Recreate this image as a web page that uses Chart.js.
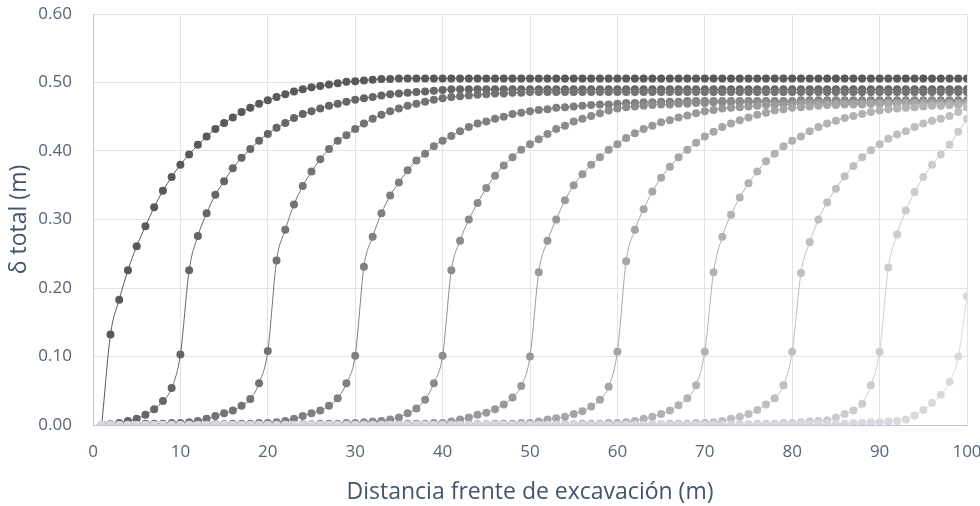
<html>
<head>
<meta charset="utf-8">
<title>Desplazamiento total vs distancia al frente</title>
<script src="https://cdn.jsdelivr.net/npm/chart.js@4.4.1/dist/chart.umd.min.js"></script>
<style>
body { margin: 0; background: #fff; }
#wrap { position: relative; width: 980px; height: 506px; }
</style>
</head>
<body>
<div id="wrap"><canvas id="deltaChart" width="980" height="506"></canvas></div>
<script>
// distancia al frente (m)
const distancias = [
  1, 2, 3, 4, 5, 6, 7, 8, 9, 10,
  11, 12, 13, 14, 15, 16, 17, 18, 19, 20,
  21, 22, 23, 24, 25, 26, 27, 28, 29, 30,
  31, 32, 33, 34, 35, 36, 37, 38, 39, 40,
  41, 42, 43, 44, 45, 46, 47, 48, 49, 50,
  51, 52, 53, 54, 55, 56, 57, 58, 59, 60,
  61, 62, 63, 64, 65, 66, 67, 68, 69, 70,
  71, 72, 73, 74, 75, 76, 77, 78, 79, 80,
  81, 82, 83, 84, 85, 86, 87, 88, 89, 90,
  91, 92, 93, 94, 95, 96, 97, 98, 99, 100
];

// delta total (m), one curve per excavation stage
const etapa1 = [
  0, 0.132, 0.183, 0.226, 0.261, 0.290, 0.318, 0.342, 0.362, 0.380,
  0.395, 0.409, 0.421, 0.432, 0.441, 0.449, 0.457, 0.463, 0.469, 0.474,
  0.479, 0.483, 0.487, 0.490, 0.493, 0.495, 0.497, 0.499, 0.501, 0.502,
  0.503, 0.504, 0.505, 0.505, 0.506, 0.506, 0.506, 0.506, 0.506, 0.506,
  0.506, 0.506, 0.506, 0.506, 0.506, 0.506, 0.506, 0.506, 0.506, 0.506,
  0.506, 0.506, 0.506, 0.506, 0.506, 0.506, 0.506, 0.506, 0.506, 0.506,
  0.506, 0.506, 0.506, 0.506, 0.506, 0.506, 0.506, 0.506, 0.506, 0.506,
  0.506, 0.506, 0.506, 0.506, 0.506, 0.506, 0.506, 0.506, 0.506, 0.506,
  0.506, 0.506, 0.506, 0.506, 0.506, 0.506, 0.506, 0.506, 0.506, 0.506,
  0.506, 0.506, 0.506, 0.506, 0.506, 0.506, 0.506, 0.506, 0.506, 0.506
];
const etapa2 = [
  0, 0.001, 0.003, 0.006, 0.009, 0.015, 0.023, 0.035, 0.054, 0.103,
  0.226, 0.276, 0.309, 0.336, 0.356, 0.375, 0.390, 0.403, 0.415, 0.425,
  0.434, 0.441, 0.448, 0.454, 0.458, 0.462, 0.466, 0.469, 0.472, 0.475,
  0.477, 0.479, 0.481, 0.483, 0.484, 0.485, 0.486, 0.487, 0.488, 0.489,
  0.490, 0.490, 0.490, 0.490, 0.490, 0.490, 0.490, 0.490, 0.490, 0.490,
  0.490, 0.490, 0.490, 0.490, 0.490, 0.490, 0.490, 0.490, 0.490, 0.490,
  0.490, 0.490, 0.490, 0.490, 0.490, 0.490, 0.490, 0.490, 0.490, 0.490,
  0.490, 0.490, 0.490, 0.490, 0.490, 0.490, 0.490, 0.490, 0.490, 0.490,
  0.490, 0.490, 0.490, 0.490, 0.490, 0.490, 0.490, 0.490, 0.490, 0.490,
  0.490, 0.490, 0.490, 0.490, 0.490, 0.490, 0.490, 0.490, 0.490, 0.490
];
const etapa3 = [
  0, 0, 0.001, 0.001, 0.001, 0.002, 0.002, 0.002, 0.003, 0.003,
  0.004, 0.006, 0.009, 0.013, 0.017, 0.021, 0.028, 0.038, 0.061, 0.108,
  0.240, 0.285, 0.322, 0.349, 0.370, 0.388, 0.403, 0.415, 0.423, 0.432,
  0.440, 0.447, 0.453, 0.458, 0.462, 0.466, 0.469, 0.472, 0.475, 0.477,
  0.479, 0.480, 0.481, 0.482, 0.483, 0.484, 0.484, 0.485, 0.485, 0.486,
  0.486, 0.486, 0.486, 0.486, 0.486, 0.486, 0.486, 0.486, 0.486, 0.486,
  0.486, 0.486, 0.486, 0.486, 0.486, 0.486, 0.486, 0.486, 0.486, 0.486,
  0.486, 0.486, 0.486, 0.486, 0.486, 0.486, 0.486, 0.486, 0.486, 0.486,
  0.486, 0.486, 0.486, 0.486, 0.486, 0.486, 0.486, 0.486, 0.486, 0.486,
  0.486, 0.486, 0.486, 0.486, 0.486, 0.486, 0.486, 0.486, 0.486, 0.486
];
const etapa4 = [
  0, 0, 0, 0, 0, 0, 0, 0, 0, 0,
  0.001, 0.001, 0.001, 0.001, 0.001, 0.002, 0.002, 0.002, 0.003, 0.003,
  0.004, 0.006, 0.009, 0.013, 0.017, 0.021, 0.028, 0.039, 0.061, 0.101,
  0.231, 0.275, 0.309, 0.335, 0.354, 0.372, 0.386, 0.396, 0.407, 0.415,
  0.422, 0.429, 0.435, 0.440, 0.443, 0.447, 0.450, 0.454, 0.456, 0.458,
  0.460, 0.461, 0.463, 0.464, 0.465, 0.466, 0.467, 0.468, 0.468, 0.469,
  0.470, 0.470, 0.471, 0.471, 0.472, 0.472, 0.472, 0.473, 0.473, 0.473,
  0.473, 0.473, 0.473, 0.473, 0.473, 0.473, 0.473, 0.473, 0.473, 0.473,
  0.474, 0.474, 0.474, 0.474, 0.474, 0.474, 0.474, 0.474, 0.474, 0.474,
  0.474, 0.474, 0.474, 0.474, 0.474, 0.474, 0.474, 0.474, 0.474, 0.474
];
const etapa5 = [
  0, 0, 0, 0, 0, 0, 0, 0, 0, 0,
  0, 0, 0, 0, 0, 0, 0, 0, 0, 0,
  0.001, 0.001, 0.001, 0.001, 0.001, 0.002, 0.002, 0.002, 0.003, 0.003,
  0.004, 0.005, 0.006, 0.008, 0.011, 0.017, 0.024, 0.037, 0.061, 0.101,
  0.226, 0.269, 0.300, 0.324, 0.346, 0.364, 0.379, 0.391, 0.402, 0.410,
  0.417, 0.425, 0.432, 0.437, 0.443, 0.447, 0.451, 0.455, 0.459, 0.462,
  0.464, 0.465, 0.466, 0.467, 0.468, 0.468, 0.469, 0.469, 0.470, 0.470,
  0.471, 0.471, 0.471, 0.471, 0.471, 0.471, 0.471, 0.471, 0.471, 0.471,
  0.471, 0.471, 0.471, 0.471, 0.471, 0.471, 0.471, 0.471, 0.471, 0.471,
  0.472, 0.472, 0.472, 0.472, 0.472, 0.472, 0.472, 0.472, 0.472, 0.472
];
const etapa6 = [
  0, 0, 0, 0, 0, 0, 0, 0, 0, 0,
  0, 0, 0, 0, 0, 0, 0, 0, 0, 0,
  0, 0, 0, 0, 0, 0, 0, 0, 0, 0,
  0.001, 0.001, 0.001, 0.001, 0.001, 0.002, 0.002, 0.002, 0.003, 0.003,
  0.005, 0.008, 0.011, 0.015, 0.018, 0.023, 0.030, 0.040, 0.057, 0.100,
  0.223, 0.269, 0.300, 0.328, 0.350, 0.366, 0.380, 0.391, 0.402, 0.410,
  0.419, 0.426, 0.432, 0.437, 0.442, 0.445, 0.449, 0.452, 0.455, 0.458,
  0.460, 0.462, 0.463, 0.464, 0.465, 0.466, 0.467, 0.467, 0.468, 0.468,
  0.469, 0.469, 0.469, 0.469, 0.469, 0.469, 0.469, 0.469, 0.469, 0.469,
  0.470, 0.470, 0.470, 0.470, 0.470, 0.470, 0.470, 0.470, 0.470, 0.470
];
const etapa7 = [
  0, 0, 0, 0, 0, 0, 0, 0, 0, 0,
  0, 0, 0, 0, 0, 0, 0, 0, 0, 0,
  0, 0, 0, 0, 0, 0, 0, 0, 0, 0,
  0, 0, 0, 0, 0, 0, 0, 0, 0, 0,
  0.001, 0.001, 0.001, 0.001, 0.001, 0.002, 0.002, 0.002, 0.003, 0.003,
  0.005, 0.008, 0.010, 0.012, 0.016, 0.020, 0.027, 0.037, 0.056, 0.107,
  0.239, 0.285, 0.315, 0.341, 0.361, 0.377, 0.391, 0.402, 0.412, 0.421,
  0.428, 0.435, 0.440, 0.445, 0.449, 0.453, 0.456, 0.459, 0.461, 0.463,
  0.464, 0.465, 0.466, 0.467, 0.467, 0.468, 0.468, 0.468, 0.469, 0.469,
  0.469, 0.469, 0.469, 0.469, 0.469, 0.469, 0.469, 0.469, 0.469, 0.469
];
const etapa8 = [
  0, 0, 0, 0, 0, 0, 0, 0, 0, 0,
  0, 0, 0, 0, 0, 0, 0, 0, 0, 0,
  0, 0, 0, 0, 0, 0, 0, 0, 0, 0,
  0, 0, 0, 0, 0, 0, 0, 0, 0, 0,
  0, 0, 0, 0, 0, 0, 0, 0, 0, 0,
  0.001, 0.001, 0.001, 0.001, 0.001, 0.002, 0.002, 0.002, 0.003, 0.003,
  0.004, 0.006, 0.009, 0.012, 0.016, 0.021, 0.029, 0.039, 0.058, 0.107,
  0.223, 0.275, 0.307, 0.332, 0.353, 0.370, 0.385, 0.396, 0.407, 0.415,
  0.421, 0.429, 0.435, 0.440, 0.444, 0.448, 0.451, 0.454, 0.457, 0.459,
  0.461, 0.462, 0.463, 0.464, 0.465, 0.466, 0.466, 0.467, 0.467, 0.468
];
const etapa9 = [
  0, 0, 0, 0, 0, 0, 0, 0, 0, 0,
  0, 0, 0, 0, 0, 0, 0, 0, 0, 0,
  0, 0, 0, 0, 0, 0, 0, 0, 0, 0,
  0, 0, 0, 0, 0, 0, 0, 0, 0, 0,
  0, 0, 0, 0, 0, 0, 0, 0, 0, 0,
  0, 0, 0, 0, 0, 0, 0, 0, 0, 0,
  0.001, 0.001, 0.001, 0.001, 0.001, 0.002, 0.002, 0.002, 0.003, 0.003,
  0.004, 0.006, 0.009, 0.012, 0.016, 0.022, 0.030, 0.039, 0.058, 0.107,
  0.222, 0.267, 0.300, 0.325, 0.345, 0.363, 0.378, 0.391, 0.401, 0.410,
  0.418, 0.424, 0.429, 0.435, 0.440, 0.444, 0.447, 0.451, 0.457, 0.464
];
const etapa10 = [
  0, 0, 0, 0, 0, 0, 0, 0, 0, 0,
  0, 0, 0, 0, 0, 0, 0, 0, 0, 0,
  0, 0, 0, 0, 0, 0, 0, 0, 0, 0,
  0, 0, 0, 0, 0, 0, 0, 0, 0, 0,
  0, 0, 0, 0, 0, 0, 0, 0, 0, 0,
  0, 0, 0, 0, 0, 0, 0, 0, 0, 0,
  0, 0, 0, 0, 0, 0, 0, 0, 0, 0,
  0.001, 0.001, 0.001, 0.001, 0.001, 0.002, 0.002, 0.002, 0.003, 0.003,
  0.004, 0.005, 0.006, 0.007, 0.011, 0.016, 0.021, 0.031, 0.058, 0.107,
  0.230, 0.278, 0.313, 0.340, 0.362, 0.380, 0.395, 0.409, 0.428, 0.447
];
const etapa11 = [
  0, 0, 0, 0, 0, 0, 0, 0, 0, 0,
  0, 0, 0, 0, 0, 0, 0, 0, 0, 0,
  0, 0, 0, 0, 0, 0, 0, 0, 0, 0,
  0, 0, 0, 0, 0, 0, 0, 0, 0, 0,
  0, 0, 0, 0, 0, 0, 0, 0, 0, 0,
  0, 0, 0, 0, 0, 0, 0, 0, 0, 0,
  0, 0, 0, 0, 0, 0, 0, 0, 0, 0,
  0, 0, 0, 0, 0, 0, 0, 0, 0, 0,
  0.001, 0.001, 0.001, 0.002, 0.002, 0.002, 0.003, 0.003, 0.004, 0.004,
  0.005, 0.006, 0.008, 0.014, 0.022, 0.032, 0.044, 0.063, 0.100, 0.188
];

const etapas = [etapa1, etapa2, etapa3, etapa4, etapa5, etapa6, etapa7, etapa8, etapa9, etapa10, etapa11];
const grises = ['#595959', '#666666', '#737373', '#7f7f7f', '#8c8c8c', '#999999',
                '#a6a6a6', '#b2b2b2', '#bfbfbf', '#cccccc', '#d9d9d9'];

const yTicks = [0, 0.1, 0.2, 0.3, 0.4, 0.5, 0.6];

const FONT = "'Open Sans', 'Noto Sans', sans-serif";
const TICK_COLOR = '#586374';
const TITLE_COLOR = '#44546a';
const GRID_COLOR = '#dfe4ec';
const AXIS_COLOR = '#b8c4d8';

var datasets = [];
for (let i = 0; i < etapas.length; i++) {
    datasets.push({
        label: 'Etapa ' + (i + 1),
        data: etapas[i],
        borderColor: grises[i],
        backgroundColor: grises[i],
        pointBackgroundColor: grises[i],
        pointBorderColor: grises[i],
        borderWidth: 1,
        pointRadius: 4,
        pointBorderWidth: 0,
        cubicInterpolationMode: 'monotone',
        fill: false,
        order: etapas.length - i   // last stage drawn on top
    });
}

const ctx = document.getElementById('deltaChart').getContext('2d');
const deltaChart = new Chart(ctx, {
    type: 'line',
    data: {
        labels: distancias,
        datasets: datasets
    },
    options: {
        responsive: false,
        animation: false,
        layout: { padding: 0 },
        plugins: {
            legend: { display: false },
            tooltip: { enabled: false }
        },
        scales: {
            x: {
                type: 'linear',
                min: 0,
                max: 100,
                afterFit: function(scale) {
                    scale.height = 81;
                    scale.paddingLeft = 0;
                    scale.paddingRight = 13;   // plot ends at x=967
                },
                ticks: {
                    stepSize: 10,
                    padding: 17,
                    color: TICK_COLOR,
                    font: { family: FONT, size: 17 },
                    maxRotation: 0
                },
                grid: { color: GRID_COLOR, drawTicks: false },
                border: { color: AXIS_COLOR, width: 1 },
                title: {
                    display: true,
                    text: 'Distancia frente de excavación (m)',
                    color: TITLE_COLOR,
                    font: { family: FONT, size: 23 },
                    padding: { top: 0, bottom: 0 }
                }
            },
            y: {
                min: 0,
                max: 0.6,
                afterFit: function(scale) {
                    scale.width = 93;
                    scale.paddingTop = 14;     // plot starts at y=14
                    scale.paddingBottom = 0;
                },
                afterBuildTicks: function(scale) {
                    scale.ticks = yTicks.map(v => ({ value: v }));
                },
                ticks: {
                    padding: 21,
                    color: TICK_COLOR,
                    font: { family: FONT, size: 17 },
                    callback: v => v.toFixed(2)
                },
                grid: { color: GRID_COLOR, drawTicks: false },
                border: { color: AXIS_COLOR, width: 1 },
                title: {
                    display: true,
                    text: 'δ total (m)',
                    color: TITLE_COLOR,
                    font: { family: FONT, size: 23 },
                    padding: { top: 6, bottom: 0 }
                }
            }
        }
    }
});
</script>
</body>
</html>
